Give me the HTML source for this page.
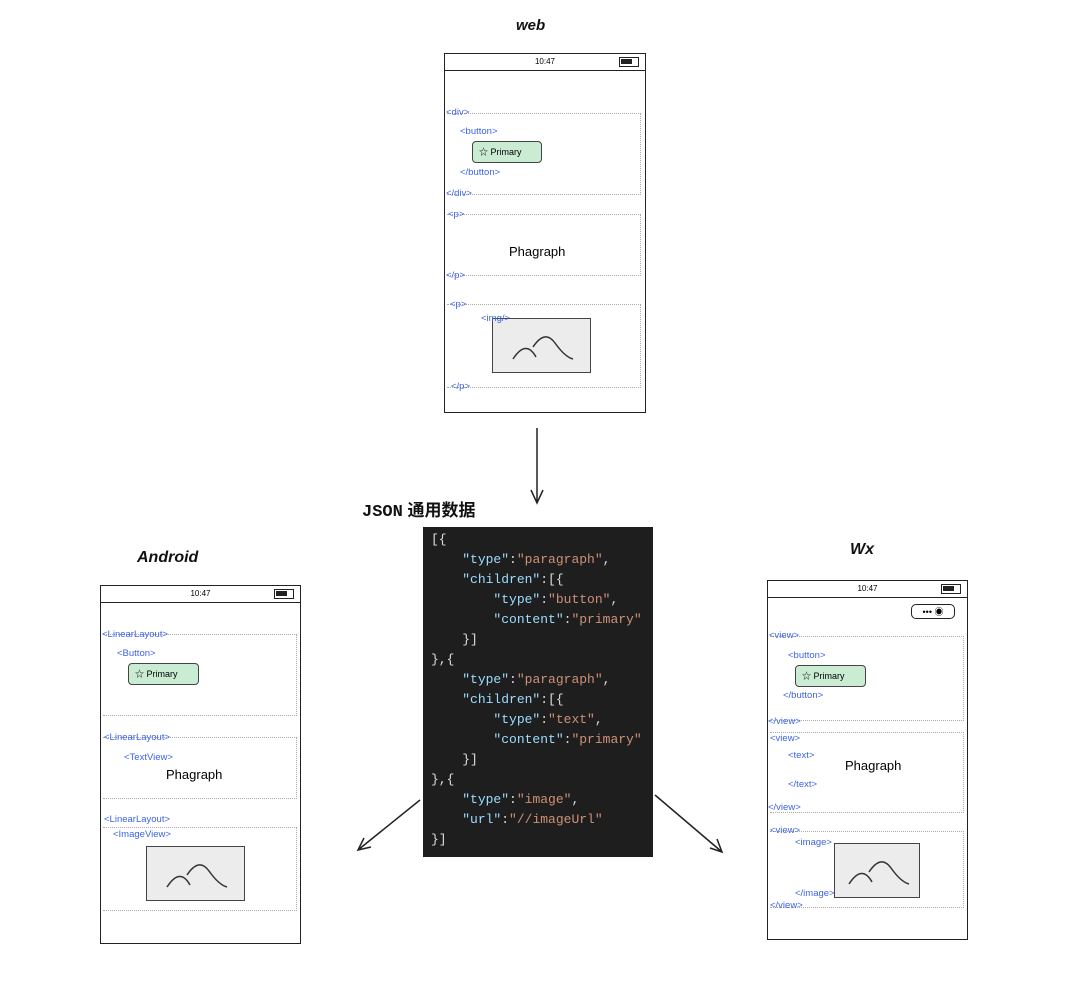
<!DOCTYPE html>
<html><head><meta charset="utf-8"><style>
body{margin:0;width:1080px;height:991px;background:#fff;position:relative;overflow:hidden;font-family:"Liberation Sans","Noto Sans CJK SC",sans-serif}
.a{position:absolute}
.ph{position:absolute;border:1.5px solid #222;box-sizing:border-box}
.sb{position:absolute;left:0;right:0;top:0;height:16px;border-bottom:1.5px solid #222;font-size:8px;text-align:center;line-height:16px}
.bat{position:absolute;right:6px;top:3px;width:20px;height:10px;border:1.5px solid #222;box-sizing:border-box}
.bat:after{content:"";position:absolute;left:1px;top:1px;width:11px;height:5px;background:#222}
.t{position:absolute;color:#3d63e6;font-size:9.5px;font-family:"Liberation Sans",sans-serif}
.d{position:absolute;border:1px dotted #aaa;border-left:none;border-right:1px dotted #aaa}
.btn{position:absolute;border:1.2px solid #444;border-radius:4px;background:#c9ecd2;font-size:9px;line-height:20px;padding-left:6px;box-sizing:border-box}
.img{position:absolute;border:1.5px solid #444;background:#ececec;box-sizing:border-box}
.h{position:absolute;font-size:16px;font-weight:bold;font-style:italic;color:#111}
.code{position:absolute;left:423px;top:527px;width:230px;height:330px;background:#1e1e1e;font-family:"Liberation Mono",monospace;font-size:13px;color:#ddd;white-space:pre;line-height:20px;padding:3px 0 0 8px;box-sizing:border-box}
.k{color:#9cdcfe}.s{color:#ce9178}
</style></head><body>
<div class="h" style="left:516px;top:17px;font-size:15px">web</div>
<div class="h" style="left:362px;top:496px;font-size:17px;font-style:normal"><span style="font-family:'Liberation Mono',monospace">JSON</span> 通用数据</div>
<div class="h" style="left:137px;top:549px">Android</div>
<div class="h" style="left:850px;top:541px">Wx</div>

<!-- web phone -->
<div class="ph" style="left:444px;top:53px;width:202px;height:360px">
<div class="sb">10:47<div class="bat"></div></div>
<div class="d" style="left:2px;top:59px;width:193px;height:80px"></div>
<div class="d" style="left:2px;top:160px;width:193px;height:60px"></div>
<div class="d" style="left:2px;top:250px;width:193px;height:82px"></div>
<div class="btn" style="left:27px;top:87px;width:70px;height:22px">☆ Primary</div>
<div class="a" style="left:64px;top:190px;font-size:13px">Phagraph</div>
<div class="img" style="left:47px;top:264px;width:99px;height:55px"><svg width="97" height="53"><path d="M20 40Q33 20 43 38M40 28Q52 10 62 24T80 40" stroke="#333" fill="none" stroke-width="1.5"/></svg></div>
</div>
<div class="t" style="left:446px;top:107px">&lt;div&gt;</div>
<div class="t" style="left:460px;top:126px">&lt;button&gt;</div>
<div class="t" style="left:460px;top:167px">&lt;/button&gt;</div>
<div class="t" style="left:446px;top:188px">&lt;/div&gt;</div>
<div class="t" style="left:448px;top:209px">&lt;p&gt;</div>
<div class="t" style="left:446px;top:270px">&lt;/p&gt;</div>
<div class="t" style="left:450px;top:299px">&lt;p&gt;</div>
<div class="t" style="left:481px;top:313px">&lt;img/&gt;</div>
<div class="t" style="left:451px;top:381px">&lt;/p&gt;</div>

<!-- android -->
<div class="ph" style="left:100px;top:585px;width:201px;height:359px">
<div class="sb">10:47<div class="bat"></div></div>
<div class="d" style="left:2px;top:48px;width:193px;height:80px"></div>
<div class="d" style="left:2px;top:151px;width:193px;height:60px"></div>
<div class="d" style="left:2px;top:241px;width:193px;height:82px"></div>
<div class="btn" style="left:27px;top:77px;width:71px;height:22px">☆ Primary</div>
<div class="a" style="left:65px;top:181px;font-size:13px">Phagraph</div>
<div class="img" style="left:45px;top:260px;width:99px;height:55px"><svg width="97" height="53"><path d="M20 40Q33 20 43 38M40 28Q52 10 62 24T80 40" stroke="#333" fill="none" stroke-width="1.5"/></svg></div>
</div>
<div class="t" style="left:102px;top:629px">&lt;LinearLayout&gt;</div>
<div class="t" style="left:117px;top:648px">&lt;Button&gt;</div>
<div class="t" style="left:104px;top:732px">&lt;LinearLayout&gt;</div>
<div class="t" style="left:124px;top:752px">&lt;TextView&gt;</div>
<div class="t" style="left:104px;top:814px">&lt;LinearLayout&gt;</div>
<div class="t" style="left:113px;top:829px">&lt;ImageView&gt;</div>

<!-- wx -->
<div class="ph" style="left:767px;top:580px;width:201px;height:360px">
<div class="sb">10:47<div class="bat"></div></div>
<div class="a" style="left:143px;top:23px;width:44px;height:15px;border:1.5px solid #222;border-radius:5px;font-size:9px;line-height:14px;text-align:center;box-sizing:border-box">•••  ◉</div>
<div class="d" style="left:2px;top:55px;width:193px;height:83px"></div>
<div class="d" style="left:2px;top:151px;width:193px;height:79px"></div>
<div class="d" style="left:2px;top:250px;width:193px;height:75px"></div>
<div class="btn" style="left:27px;top:84px;width:71px;height:22px">☆ Primary</div>
<div class="a" style="left:77px;top:177px;font-size:13px">Phagraph</div>
<div class="img" style="left:66px;top:262px;width:86px;height:55px"><svg width="84" height="53"><path d="M14 40Q27 20 37 38M34 28Q46 10 56 24T74 40" stroke="#333" fill="none" stroke-width="1.5"/></svg></div>
</div>
<div class="t" style="left:769px;top:630px">&lt;view&gt;</div>
<div class="t" style="left:788px;top:650px">&lt;button&gt;</div>
<div class="t" style="left:783px;top:690px">&lt;/button&gt;</div>
<div class="t" style="left:768px;top:716px">&lt;/view&gt;</div>
<div class="t" style="left:770px;top:733px">&lt;view&gt;</div>
<div class="t" style="left:788px;top:750px">&lt;text&gt;</div>
<div class="t" style="left:788px;top:779px">&lt;/text&gt;</div>
<div class="t" style="left:768px;top:802px">&lt;/view&gt;</div>
<div class="t" style="left:770px;top:825px">&lt;view&gt;</div>
<div class="t" style="left:795px;top:837px">&lt;image&gt;</div>
<div class="t" style="left:795px;top:888px">&lt;/image&gt;</div>
<div class="t" style="left:770px;top:900px">&lt;/view&gt;</div>

<!-- arrows -->
<svg class="a" style="left:0;top:0" width="1080" height="991">
<g stroke="#222" stroke-width="1.5" fill="none">
<path d="M537 428L537 503M531 490L537 503L543 490"/>
<path d="M420 800L358 850M364 838L358 850L371 847"/>
<path d="M655 795L722 852M710 848L722 852L717 839"/>
</g></svg>

<div class="code">[{
    <span class="k">"type"</span>:<span class="s">"paragraph"</span>,
    <span class="k">"children"</span>:[{
        <span class="k">"type"</span>:<span class="s">"button"</span>,
        <span class="k">"content"</span>:<span class="s">"primary"</span>
    }]
},{
    <span class="k">"type"</span>:<span class="s">"paragraph"</span>,
    <span class="k">"children"</span>:[{
        <span class="k">"type"</span>:<span class="s">"text"</span>,
        <span class="k">"content"</span>:<span class="s">"primary"</span>
    }]
},{
    <span class="k">"type"</span>:<span class="s">"image"</span>,
    <span class="k">"url"</span>:<span class="s">"//imageUrl"</span>
}]</div>
</body></html>
